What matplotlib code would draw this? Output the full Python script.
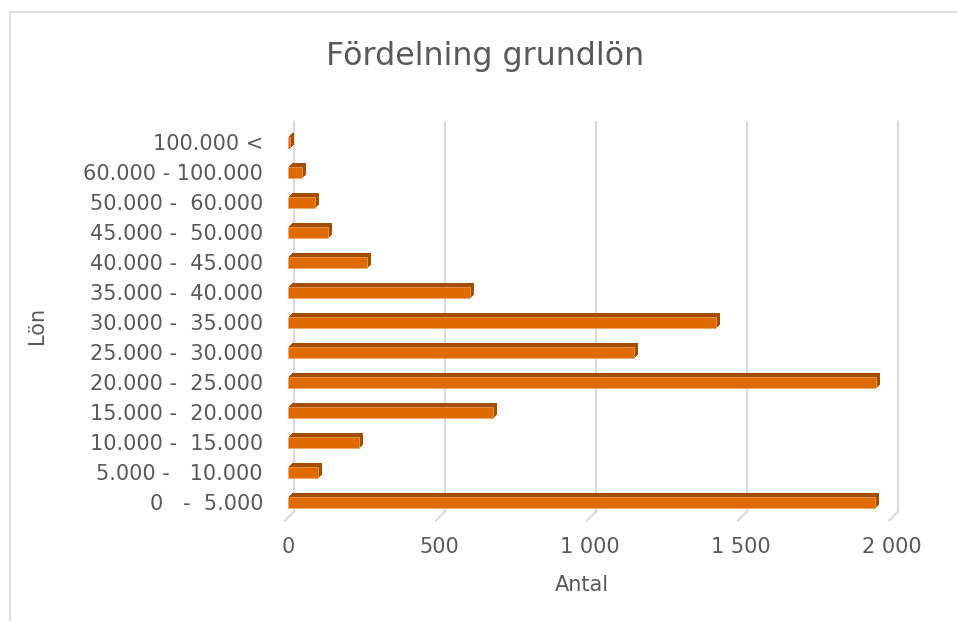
import matplotlib.pyplot as plt
from matplotlib.lines import Line2D
from matplotlib.transforms import ScaledTranslation

# kategorier (nerifrån och upp) och antal
categories = ['0   -  5.000', '5.000 -   10.000', '10.000 -  15.000', '15.000 -  20.000',
              '20.000 -  25.000', '25.000 -  30.000', '30.000 -  35.000', '35.000 -  40.000',
              '40.000 -  45.000', '45.000 -  50.000', '50.000 -  60.000', '60.000 - 100.000',
              '100.000 <']
counts = [1944, 99, 235, 679, 1948, 1147, 1416, 603, 262, 131, 90, 46, 7]
xticks = [0, 500, 1000, 1500, 2000]
xticklabels = ['0', '500', '1 000', '1 500', '2 000']

TXT = '#595959'
GRID = '#D9D9D9'
FRONT = '#DF6A00'
DARK = '#A44E00'

plt.rcParams['font.family'] = ['DejaVu Sans']

fig = plt.figure(figsize=(9.57, 6.21), dpi=100)
W, H = 957, 621
left, right, top, bottom = 288, 892, 127.5, 517.5
ax = fig.add_axes([left / W, 1 - bottom / H, (right - left) / W, (bottom - top) / H])
ax.set_xlim(0, 2000)
ax.set_ylim(-0.5, len(categories) - 0.5)
for s in ax.spines.values():
    s.set_visible(False)

def px(dx, dy):
    return ScaledTranslation(dx / 100, dy / 100, fig.dpi_scale_trans)

# gridlinjer på bakväggen + golvlinje (3D)
back = ax.get_xaxis_transform() + px(6, 6)
for v in xticks:
    ax.plot([v, v], [0, 1], color=GRID, lw=1.5, transform=back, clip_on=False, zorder=0)
    x0, y0 = ax.transData.transform((v, -0.5))
    fig.add_artist(Line2D([(x0 + 6) / W, (x0 - 3) / W], [(y0 + 6) / H, (y0 - 3) / H],
                          color=GRID, lw=1.5, transform=fig.transFigure))

# 3D-djup på staplarna
steps = 8
for k in range(steps, 0, -1):
    d = k / steps
    bars = ax.barh(range(len(counts)), counts, height=0.39, color=DARK, zorder=2)
    for p in bars:
        p.set_transform(ax.transData + px(4 * d, 3.5 * d))
        p.set_clip_on(False)
ax.barh(range(len(counts)), counts, height=0.39, color=FRONT,
        edgecolor='#F0A469', linewidth=0.5, zorder=3)

ax.set_yticks(range(len(categories)))
ax.set_yticklabels(categories)
ax.set_xticks(xticks)
ax.set_xticklabels(xticklabels)
ax.tick_params(axis='y', length=0, pad=18, labelsize=15, labelcolor=TXT)
ax.tick_params(axis='x', length=0, pad=14, labelsize=15, labelcolor=TXT)

ax.set_xlabel('Antal', fontsize=15, color=TXT)
ax.xaxis.set_label_coords((582 - left) / (right - left), -(585 - bottom) / (bottom - top))
ax.xaxis.label.set_va('center')
ax.set_ylabel('Lön', fontsize=15, color=TXT)
ax.yaxis.set_label_coords((37 - left) / (right - left), (bottom - 325) / (bottom - top))
ax.yaxis.label.set_va('center')

fig.text(485 / W, 1 - 65 / H, 'Fördelning grundlön', fontsize=22.8, color=TXT,
         ha='center', va='baseline')

# diagramram
fig.add_artist(Line2D([9.5 / W, 1], [1 - 11.5 / H, 1 - 11.5 / H], color=GRID, lw=1.2,
                      transform=fig.transFigure))
fig.add_artist(Line2D([9.5 / W, 9.5 / W], [0, 1 - 11.5 / H], color=GRID, lw=1.2,
                      transform=fig.transFigure))

fig.savefig('out.png', dpi=100)
